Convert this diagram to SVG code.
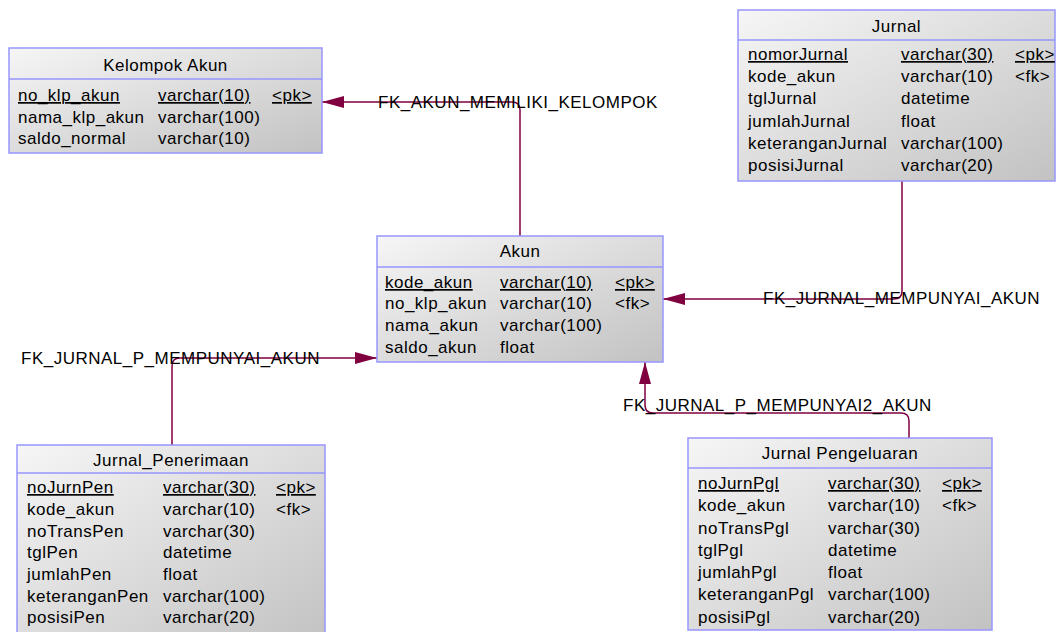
<svg xmlns="http://www.w3.org/2000/svg" width="1056" height="632" viewBox="0 0 1056 632">
<defs>
<linearGradient id="g" x1="0" y1="0" x2="1" y2="1">
<stop offset="0" stop-color="#f6f6f6"/>
<stop offset="1" stop-color="#c2c2c2"/>
</linearGradient>
<marker id="arr" viewBox="0 0 22 12" refX="22" refY="6" markerWidth="22" markerHeight="12" markerUnits="userSpaceOnUse" orient="auto">
<path d="M0,0 L22,6 L0,12 Z" fill="#800040"/>
</marker>
<style>
.box{fill:url(#g);stroke:#9696ff;stroke-width:1.5}
.sep{stroke:#9696ff;stroke-width:1.5}
text{font-family:"Liberation Sans",Arial,sans-serif;font-size:17px;letter-spacing:0.5px;fill:#000}
.t{text-anchor:middle}
.u{text-decoration:underline}
.c{fill:none;stroke:#800040;stroke-width:1.5;marker-end:url(#arr)}
</style>
</defs>
<rect width="1056" height="632" fill="#fff"/>
<g id="connectors">
<path class="c" d="M520,236 V110 Q520,102 512,102 H322"/>
<path class="c" d="M902,181 V291 Q902,299 894,299 H663"/>
<path class="c" d="M172,445 V366 Q172,358 180,358 H377"/>
<path class="c" d="M909,438 V421 Q909,413 901,413 H653 Q645,413 645,405 V362"/>
<text x="378" y="108">FK_AKUN_MEMILIKI_KELOMPOK</text>
<text x="763" y="304">FK_JURNAL_MEMPUNYAI_AKUN</text>
<text x="21" y="364">FK_JURNAL_P_MEMPUNYAI_AKUN</text>
<text x="623" y="411">FK_JURNAL_P_MEMPUNYAI2_AKUN</text>
</g>
<g id="kelompok_akun">
<rect class="box" x="9" y="48" width="313" height="105"/>
<line class="sep" x1="9" y1="79" x2="322" y2="79"/>
<text class="t" x="165.5" y="71">Kelompok Akun</text>
<text class="u" x="18" y="101">no_klp_akun</text><text class="u" x="158" y="101">varchar(10)</text><text class="u" x="272" y="101">&lt;pk&gt;</text>
<text x="18" y="123">nama_klp_akun</text><text x="158" y="123">varchar(100)</text>
<text x="18" y="144">saldo_normal</text><text x="158" y="144">varchar(10)</text>
</g>
<g id="jurnal">
<rect class="box" x="738" y="10" width="317" height="171"/>
<line class="sep" x1="738" y1="40" x2="1055" y2="40"/>
<text class="t" x="896.5" y="32">Jurnal</text>
<text class="u" x="748" y="60">nomorJurnal</text><text class="u" x="901" y="60">varchar(30)</text><text class="u" x="1015" y="60">&lt;pk&gt;</text>
<text x="748" y="82">kode_akun</text><text x="901" y="82">varchar(10)</text><text x="1015" y="82">&lt;fk&gt;</text>
<text x="748" y="104">tglJurnal</text><text x="901" y="104">datetime</text>
<text x="748" y="127">jumlahJurnal</text><text x="901" y="127">float</text>
<text x="748" y="149">keteranganJurnal</text><text x="901" y="149">varchar(100)</text>
<text x="748" y="171">posisiJurnal</text><text x="901" y="171">varchar(20)</text>
</g>
<g id="akun">
<rect class="box" x="377" y="236" width="286" height="126"/>
<line class="sep" x1="377" y1="267" x2="663" y2="267"/>
<text class="t" x="520" y="257">Akun</text>
<text class="u" x="385" y="288">kode_akun</text><text class="u" x="500" y="288">varchar(10)</text><text class="u" x="615" y="288">&lt;pk&gt;</text>
<text x="385" y="309">no_klp_akun</text><text x="500" y="309">varchar(10)</text><text x="615" y="309">&lt;fk&gt;</text>
<text x="385" y="331">nama_akun</text><text x="500" y="331">varchar(100)</text>
<text x="385" y="353">saldo_akun</text><text x="500" y="353">float</text>
</g>
<g id="jurnal_penerimaan">
<rect class="box" x="17" y="445" width="308" height="200"/>
<line class="sep" x1="17" y1="473" x2="325" y2="473"/>
<text class="t" x="171" y="466">Jurnal_Penerimaan</text>
<text class="u" x="27" y="493">noJurnPen</text><text class="u" x="163" y="493">varchar(30)</text><text class="u" x="276" y="493">&lt;pk&gt;</text>
<text x="27" y="515">kode_akun</text><text x="163" y="515">varchar(10)</text><text x="276" y="515">&lt;fk&gt;</text>
<text x="27" y="537">noTransPen</text><text x="163" y="537">varchar(30)</text>
<text x="27" y="558">tglPen</text><text x="163" y="558">datetime</text>
<text x="27" y="580">jumlahPen</text><text x="163" y="580">float</text>
<text x="27" y="602">keteranganPen</text><text x="163" y="602">varchar(100)</text>
<text x="27" y="623">posisiPen</text><text x="163" y="623">varchar(20)</text>
</g>
<g id="jurnal_pengeluaran">
<rect class="box" x="688" y="438" width="304" height="192"/>
<line class="sep" x1="688" y1="468" x2="992" y2="468"/>
<text class="t" x="840" y="459">Jurnal Pengeluaran</text>
<text class="u" x="698" y="489">noJurnPgl</text><text class="u" x="828" y="489">varchar(30)</text><text class="u" x="942" y="489">&lt;pk&gt;</text>
<text x="698" y="511">kode_akun</text><text x="828" y="511">varchar(10)</text><text x="942" y="511">&lt;fk&gt;</text>
<text x="698" y="534">noTransPgl</text><text x="828" y="534">varchar(30)</text>
<text x="698" y="556">tglPgl</text><text x="828" y="556">datetime</text>
<text x="698" y="578">jumlahPgl</text><text x="828" y="578">float</text>
<text x="698" y="600">keteranganPgl</text><text x="828" y="600">varchar(100)</text>
<text x="698" y="623">posisiPgl</text><text x="828" y="623">varchar(20)</text>
</g>
</svg>
